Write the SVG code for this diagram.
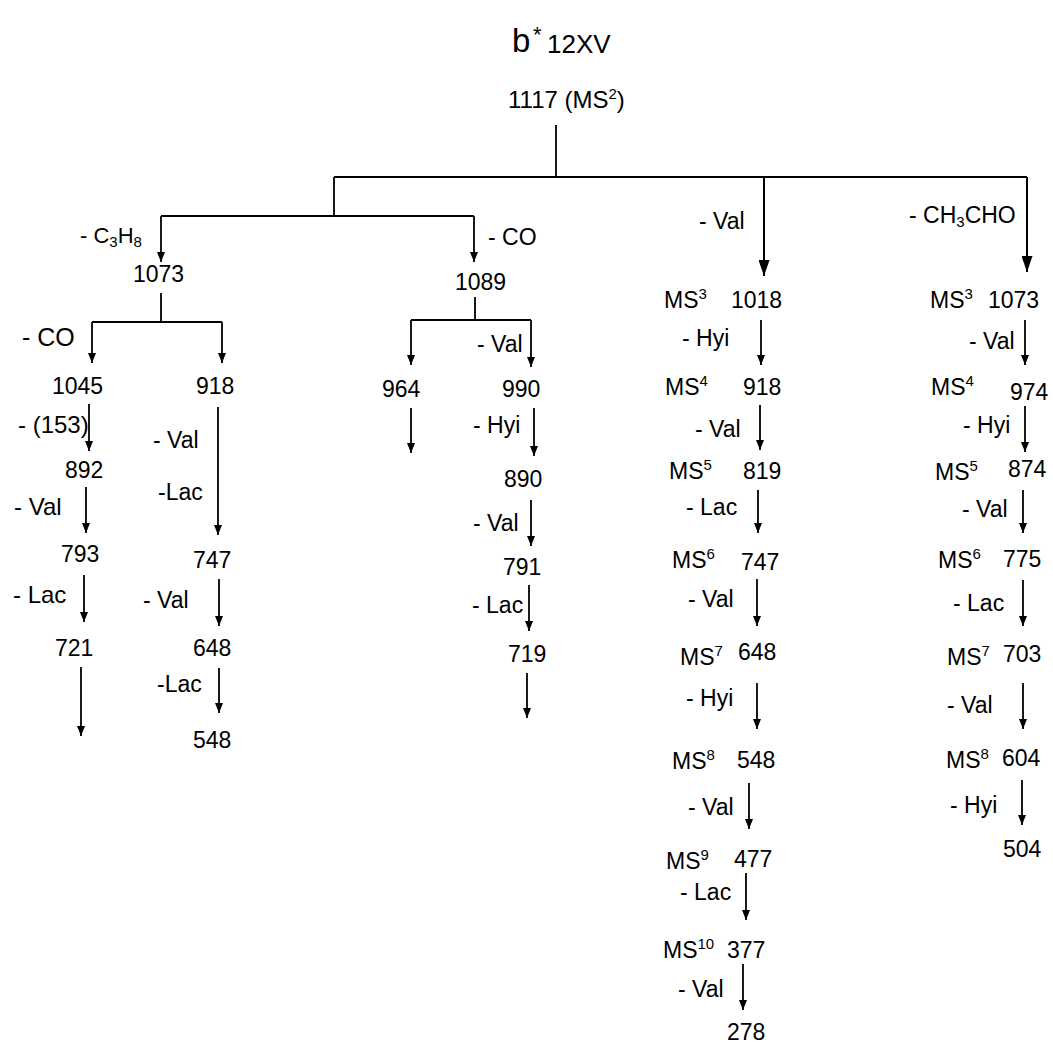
<svg xmlns="http://www.w3.org/2000/svg" width="1053" height="1045" viewBox="0 0 1053 1045">
<style>
text{font-family:"Liberation Sans",Arial,sans-serif;fill:#000;font-size:23px}
.ln{fill:none;stroke:#000;stroke-width:1.8}
.ar{fill:none;stroke:#000;stroke-width:1.8;marker-end:url(#ah)}
.ab{fill:none;stroke:#000;stroke-width:2;marker-end:url(#ahb)}
.sup{font-size:15px}
</style>
<defs>
<marker id="ah" markerUnits="userSpaceOnUse" markerWidth="8" markerHeight="10" refX="4" refY="10" orient="0" viewBox="0 0 8 10">
<path d="M0,0 L8,0 L4,10 Z" fill="#000"/>
</marker>
<marker id="ahb" markerUnits="userSpaceOnUse" markerWidth="11" markerHeight="16" refX="5.5" refY="16" orient="0" viewBox="0 0 11 16">
<path d="M0,0 L11,0 L5.5,16 Z" fill="#000"/>
</marker>
</defs>
<rect width="1053" height="1045" fill="#fff"/>

<g id="title">
<text x="512" y="52" style="font-size:33px">b</text>
<text x="533" y="42" style="font-size:22px">*</text>
<text x="547" y="53" style="font-size:26px">12XV</text>
</g>

<g id="connectors">
<path class="ln" d="M556,125 V177 M334,177 H1027 M334,177 V216 M161,216 H474"/>
<path class="ar" d="M161,216 V262"/>
<path class="ar" d="M474,216 V262"/>
<path class="ab" d="M764,177 V276"/>
<path class="ab" d="M1027,177 V272"/>
<path class="ln" d="M161,293 V322 M92,322 H222"/>
<path class="ar" d="M92,322 V363"/>
<path class="ar" d="M222,322 V363"/>
<path class="ln" d="M475,297 V320 M411,320 H531"/>
<path class="ar" d="M411,320 V365"/>
<path class="ar" d="M531,320 V367"/>
<path class="ar" d="M89,404 V451"/>
<path class="ar" d="M86,487 V533"/>
<path class="ar" d="M84,575 V622"/>
<path class="ar" d="M81,667 V736"/>
<path class="ar" d="M218,407 V535"/>
<path class="ar" d="M219,579 V626"/>
<path class="ar" d="M219,668 V713"/>
<path class="ar" d="M411,408 V453"/>
<path class="ar" d="M534,408 V456"/>
<path class="ar" d="M531,500 V546"/>
<path class="ar" d="M529,585 V631"/>
<path class="ar" d="M527,673 V718"/>
<path class="ar" d="M761,320 V365"/>
<path class="ar" d="M760,405 V450"/>
<path class="ar" d="M758,490 V533"/>
<path class="ar" d="M757,579 V626"/>
<path class="ar" d="M757,683 V729"/>
<path class="ar" d="M749,783 V829"/>
<path class="ar" d="M746,873 V920"/>
<path class="ar" d="M743,964 V1010"/>
<path class="ar" d="M1025,320 V365"/>
<path class="ar" d="M1025,406 V452"/>
<path class="ar" d="M1023,490 V533"/>
<path class="ar" d="M1023,580 V626"/>
<path class="ar" d="M1023,683 V729"/>
<path class="ar" d="M1022,780 V825"/>
</g>

<g id="edge-labels">
<text x="80" y="243" style="font-size:22px">- C<tspan class="sup" dy="4">3</tspan><tspan dy="-4">H</tspan><tspan class="sup" dy="4">8</tspan></text>
<text x="488" y="245">- CO</text>
<text x="699" y="229">- Val</text>
<text x="909" y="223">- CH<tspan class="sup" dy="4">3</tspan><tspan dy="-4">CHO</tspan></text>
<text x="22" y="346" style="font-size:25px">- CO</text>
<text x="18" y="433" style="font-size:24px">- (153)</text>
<text x="153" y="448">- Val</text>
<text x="158" y="500">-Lac</text>
<text x="14" y="515" style="font-size:24px">- Val</text>
<text x="13" y="603" style="font-size:24px">- Lac</text>
<text x="143" y="608">- Val</text>
<text x="157" y="692">-Lac</text>
<text x="477" y="352">- Val</text>
<text x="473" y="433">- Hyi</text>
<text x="473" y="531">- Val</text>
<text x="472" y="613">- Lac</text>
<text x="682" y="346">- Hyi</text>
<text x="695" y="437">- Val</text>
<text x="686" y="515">- Lac</text>
<text x="688" y="607">- Val</text>
<text x="686" y="706">- Hyi</text>
<text x="688" y="815">- Val</text>
<text x="680" y="900">- Lac</text>
<text x="678" y="997">- Val</text>
<text x="969" y="349">- Val</text>
<text x="963" y="433">- Hyi</text>
<text x="962" y="517">- Val</text>
<text x="953" y="611">- Lac</text>
<text x="947" y="713">- Val</text>
<text x="950" y="813">- Hyi</text>
</g>

<g id="n1117"><text x="508" y="108" style="font-size:24px">1117 (MS<tspan class="sup" dy="-9">2</tspan><tspan dy="9">)</tspan></text></g>
<g id="n1073a"><text x="133" y="282">1073</text></g>
<g id="n1089"><text x="455" y="290">1089</text></g>
<g id="n1045"><text x="52" y="394">1045</text></g>
<g id="n918a"><text x="196" y="394">918</text></g>
<g id="n892"><text x="65" y="478">892</text></g>
<g id="n793"><text x="61" y="562">793</text></g>
<g id="n721"><text x="55" y="656">721</text></g>
<g id="n747a"><text x="193" y="568">747</text></g>
<g id="n648a"><text x="193" y="656">648</text></g>
<g id="n548a"><text x="193" y="748">548</text></g>
<g id="n964"><text x="382" y="397">964</text></g>
<g id="n990"><text x="502" y="397">990</text></g>
<g id="n890"><text x="504" y="487">890</text></g>
<g id="n791"><text x="503" y="575">791</text></g>
<g id="n719"><text x="508" y="662">719</text></g>

<g id="n1018"><text x="664" y="308">MS<tspan class="sup" dy="-9">3</tspan></text><text x="731" y="308">1018</text></g>
<g id="n918b"><text x="665" y="395">MS<tspan class="sup" dy="-9">4</tspan></text><text x="743" y="395">918</text></g>
<g id="n819"><text x="669" y="479">MS<tspan class="sup" dy="-9">5</tspan></text><text x="743" y="479">819</text></g>
<g id="n747b"><text x="672" y="568">MS<tspan class="sup" dy="-9">6</tspan></text><text x="741" y="570">747</text></g>
<g id="n648b"><text x="680" y="665">MS<tspan class="sup" dy="-9">7</tspan></text><text x="738" y="660">648</text></g>
<g id="n548b"><text x="672" y="769">MS<tspan class="sup" dy="-9">8</tspan></text><text x="737" y="768">548</text></g>
<g id="n477"><text x="666" y="869">MS<tspan class="sup" dy="-9">9</tspan></text><text x="734" y="867">477</text></g>
<g id="n377"><text x="663" y="958">MS<tspan class="sup" dy="-9">10</tspan></text><text x="727" y="958">377</text></g>
<g id="n278"><text x="727" y="1040">278</text></g>

<g id="n1073b"><text x="930" y="308">MS<tspan class="sup" dy="-9">3</tspan></text><text x="988" y="308">1073</text></g>
<g id="n974"><text x="931" y="395">MS<tspan class="sup" dy="-9">4</tspan></text><text x="1010" y="400">974</text></g>
<g id="n874"><text x="935" y="480">MS<tspan class="sup" dy="-9">5</tspan></text><text x="1008" y="477">874</text></g>
<g id="n775"><text x="938" y="568">MS<tspan class="sup" dy="-9">6</tspan></text><text x="1003" y="567">775</text></g>
<g id="n703"><text x="947" y="665">MS<tspan class="sup" dy="-9">7</tspan></text><text x="1003" y="662">703</text></g>
<g id="n604"><text x="946" y="768">MS<tspan class="sup" dy="-9">8</tspan></text><text x="1002" y="766">604</text></g>
<g id="n504"><text x="1003" y="857">504</text></g>
</svg>
